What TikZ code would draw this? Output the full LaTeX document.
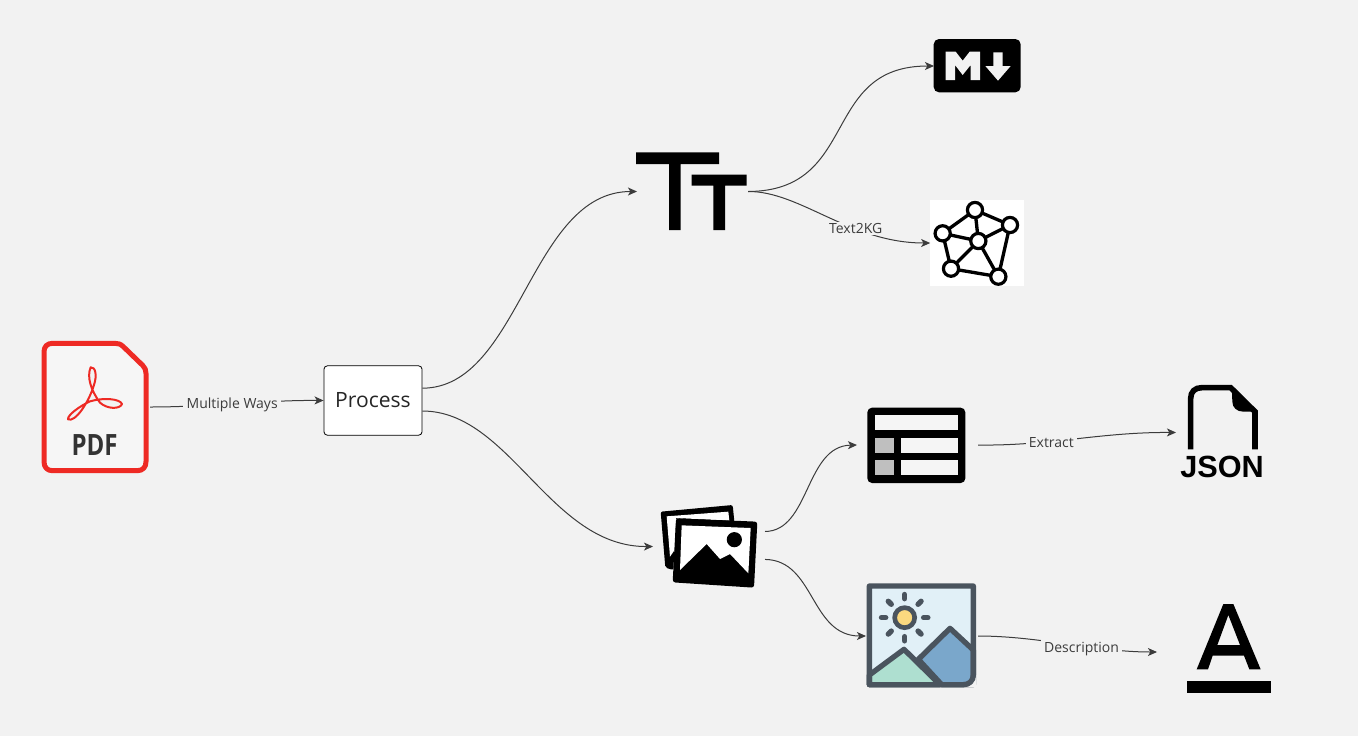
\documentclass[tikz,border=0pt]{standalone}
\usepackage{fontspec}
\setmainfont{Open Sans}
\newfontfamily\jsonfont{Liberation Sans}
\usetikzlibrary{arrows.meta}
\definecolor{bgc}{HTML}{F2F2F2}
\definecolor{linec}{HTML}{3C3C3C}
\definecolor{pdfred}{HTML}{EE2A24}
\definecolor{slatec}{HTML}{4A545E}
\tikzset{
  iconbox/.style={rectangle,inner sep=0pt,outer sep=0pt},
  conn/.style={draw=linec,line width=0.75pt,-{Stealth[length=6.8pt,width=6pt,inset=1.8pt]}},
  edgelabel/.style={fill=bgc,text=linec,font=\fontsize{10.5pt}{12pt}\selectfont,inner xsep=2.5pt,inner ysep=1pt},
  processbox/.style={rectangle,draw=black,fill=white,rounded corners=2.5pt,line width=0.6pt,inner sep=0pt,minimum width=73.5pt,minimum height=52pt,font=\fontsize{15.8pt}{18pt}\selectfont,text=black!85},
  za/.style={shift={(620,20)},x=0.25pt,y=-0.25pt},
  zb/.style={shift={(640,390)},x=0.25pt,y=-0.25pt},
  zc/.style={shift={(20,320)},x=0.25pt,y=-0.25pt},
  zd/.style={shift={(1140,370)},x=0.25pt,y=-0.25pt},
  ze/.style={shift={(1140,590)},x=0.25pt,y=-0.25pt},
}
\begin{document}
\begin{tikzpicture}[x=0.75pt,y=-0.75pt]
\useasboundingbox (0,0) rectangle (1358,736);
\fill[bgc] (0,0) rectangle (1358,736);

% --- PDF icon
\begin{scope}[zc]
  \draw[pdfred,line width=3.75pt,fill=white!30!bgc,line join=round]
    (72,95) .. controls (72,80) and (82,70) .. (97,70) -- (285,70)
    .. controls (295,70) and (302,72) .. (310,80) -- (368,136)
    .. controls (375,143) and (378,150) .. (378,160) -- (378,425)
    .. controls (378,442) and (368,452) .. (352,452) -- (97,452)
    .. controls (82,452) and (72,442) .. (72,425) -- cycle;
  \draw[pdfred,line width=1.5pt,line join=round,fill=bgc]
    (212,142) .. controls (200,170) and (212,210) .. (240,248)
    .. controls (262,268) and (300,268) .. (306,252)
    .. controls (300,236) and (250,232) .. (210,244)
    .. controls (180,258) and (142,285) .. (144,298)
    .. controls (165,308) and (205,250) .. (222,195)
    .. controls (232,165) and (226,140) .. (212,142) -- cycle;
  \node[text=black!80,font=\fontsize{20pt}{24pt}\selectfont\bfseries,inner sep=0pt,xscale=0.9,yscale=1.1] (pdflabel) at (224,374) {PDF};
\end{scope}
\node[iconbox,minimum width=81pt,minimum height=97.5pt] (pdf) at (96,407) {};

% --- Process
\node[processbox] (process) at (373,400.5) {Process};

% --- Tt icon
\node[iconbox,minimum width=83.25pt,minimum height=57.75pt] (tt) at (692.5,191.5) {};
\begin{scope}[za]
  \fill[black] (48,397) -- (297,397) -- (297,432) -- (182,432) -- (182,630) -- (147,630) -- (147,432) -- (48,432) -- cycle;
  \fill[black] (215,464) -- (380,464) -- (380,497) -- (315,497) -- (315,630) -- (280,630) -- (280,497) -- (215,497) -- cycle;
\end{scope}

% --- Markdown icon
\node[iconbox,minimum width=65.25pt,minimum height=40.5pt] (md) at (977.5,66) {};
\begin{scope}[za]
  \fill[black,rounded corners=4pt] (941,57) rectangle (1202,217);
  \fill[bgc] (977,95) -- (1007,95) -- (1028,122) -- (1049,95) -- (1080,95) -- (1080,180) -- (1052,180) -- (1052,135) -- (1028,165) -- (1005,135) -- (1005,180) -- (977,180) -- cycle;
  \fill[bgc] (1120,97) -- (1148,97) -- (1148,138) -- (1172,138) -- (1134,182) -- (1096,138) -- (1120,138) -- cycle;
\end{scope}

% --- Knowledge graph icon
\node[iconbox,minimum width=70.25pt,minimum height=64.5pt] (kg) at (977,243) {};
\begin{scope}[za]
  \fill[white] (930,540) rectangle (1211,798);
  \coordinate (k1) at (1065,570);
  \coordinate (k2) at (1170,615);
  \coordinate (k3) at (968,640);
  \coordinate (k4) at (1075,663);
  \coordinate (k5) at (993,746);
  \coordinate (k6) at (1135,770);
  \draw[black,line width=2.5pt] (k1)--(k2) (k1)--(k3) (k1)--(k4) (k3)--(k4) (k2)--(k4) (k3)--(k5) (k5)--(k4) (k5)--(k6) (k4)--(k6) (k2)--(k6);
  \foreach \k in {k1,k2,k3,k4,k5,k6}
    \draw[black,line width=2.4pt,fill=white] (\k) circle (5.7pt);
\end{scope}

% --- Images icon
\node[iconbox,minimum width=84pt,minimum height=62.25pt] (images) at (709,546.5) {};
\begin{scope}[zb]
  \fill[black,rounded corners=1.5pt] (62,365) -- (278,345) -- (283,395) -- (108,385) -- (100,540) -- (76,533) -- cycle;
  \fill[white] (80,379) -- (265,365) -- (268,392) -- (108,384) -- (105,478) -- (90,500) -- cycle;
  \fill[black,rounded corners=2pt] (108,385) -- (352,395) -- (342,593) -- (98,577) -- cycle;
  \fill[white] (125,406) -- (332,414) -- (325,550) -- (270,492) -- (240,507) -- (200,462) -- (120,540) -- cycle;
  \fill[black] (283,449) circle (5.7pt);
\end{scope}

% --- Table icon
\node[iconbox,minimum width=90.75pt,minimum height=57pt] (tablei) at (917.5,445) {};
\begin{scope}[zb]
  \fill[black,rounded corners=3.5pt] (682,53) rectangle (976,279);
  \fill[white!20!bgc] (705,75) rectangle (955,120);
  \fill[white!20!bgc] (783,143) rectangle (955,188);
  \fill[white!20!bgc] (783,211) rectangle (955,256);
  \fill[black!25] (705,143) rectangle (762,188);
  \fill[black!25] (705,211) rectangle (762,256);
\end{scope}

% --- Scene icon
\node[iconbox,minimum width=84pt,minimum height=78pt] (scene) at (922,636) {};
\begin{scope}[zb]
  \fill[fill={rgb,255:red,225;green,240;blue,247}] (688,588) rectangle (1000,884);
  \foreach \a in {0,45,...,315}
    \draw[slatec,line width=4pt,line cap=round] (794,683) ++(\a:14.2pt) -- ++(\a:3.2pt);
  \draw[slatec,line width=3.5pt,fill={rgb,255:red,251;green,217;blue,127}] (794,683) circle (7.5pt);
  \draw[slatec,line width=4pt,line join=round,fill={rgb,255:red,122;green,167;blue,203}]
    (835,808) -- (930,715) -- (1000,780) -- (1000,884) -- (905,884) -- cycle;
  \draw[slatec,line width=4pt,line join=round,fill={rgb,255:red,174;green,223;blue,208}]
    (688,855) -- (792,778) -- (900,884) -- (688,884) -- cycle;
  \fill[bgc] (1008,892) -- (1008,856) .. controls (1006,876) and (992,890) .. (972,892) -- cycle;
  \draw[slatec,line width=4pt,line join=round]
    (688,588) -- (1000,588) -- (1000,854) .. controls (1000,872) and (988,884) .. (970,884) -- (688,884) -- cycle;
\end{scope}

% --- JSON icon
\node[iconbox,minimum width=66.75pt,minimum height=71.25pt] (json) at (1220.5,432.5) {};
\begin{scope}[zd]
  \draw[black,line width=4.2pt] (152,238) -- (152,85) .. controls (152,65) and (165,53) .. (185,53) -- (272,53) -- (345,125) -- (345,238);
  \fill[black] (275,48) -- (352,125) -- (310,125) .. controls (290,125) and (277,112) .. (277,95) -- cycle;
  \node[text=black,font=\jsonfont\fontsize{23pt}{26pt}\selectfont\bfseries,inner sep=0pt] (jsonlabel) at (246,292) {JSON};
\end{scope}

% --- Underlined A icon
\node[iconbox,minimum width=85.5pt,minimum height=63pt] (aicon) at (1214,652) {};
\begin{scope}[ze]
  \fill[black,even odd rule] (250,42) -- (280,42) -- (362,238) -- (328,238) -- (312,197) -- (218,197) -- (204,238) -- (170,238) -- cycle
    (265,75) -- (300,165) -- (232,165) -- cycle;
  \fill[black] (141,274) rectangle (392,310);
\end{scope}

% --- Connectors
\draw[conn] (pdf.east) .. controls (210,407) and (265,400) .. (process.west)
  node[edgelabel,pos=0.47,yshift=-0.6pt] (lblways) {Multiple Ways};
\draw[conn] (process.14) .. controls (520,388) and (530,191.5) .. (tt.west);
\draw[conn] (process.-12) .. controls (510,411) and (550,547) .. (images.west);
\draw[conn] (tt.east) .. controls (860,191) and (820,66) .. (md.west);
\draw[conn] (tt.east) .. controls (800,191) and (850,243) .. (kg.west)
  node[edgelabel,pos=0.65] (lblkg) {Text2KG};
\draw[conn] (images.15.5) .. controls (810,531) and (805,446) .. (tablei.west);
\draw[conn] (images.-13.5) .. controls (815,560) and (810,636) .. (scene.west);
\draw[conn] (tablei.east) .. controls (1050,446) and (1100,432) .. (json.west)
  node[edgelabel,pos=0.37,yshift=-1.2pt] (lblextract) {Extract};
\draw[conn] (scene.east) .. controls (1040,636) and (1095,652) .. (aicon.west)
  node[edgelabel,pos=0.58,yshift=-2pt] (lbldesc) {Description};
\end{tikzpicture}
\end{document}
